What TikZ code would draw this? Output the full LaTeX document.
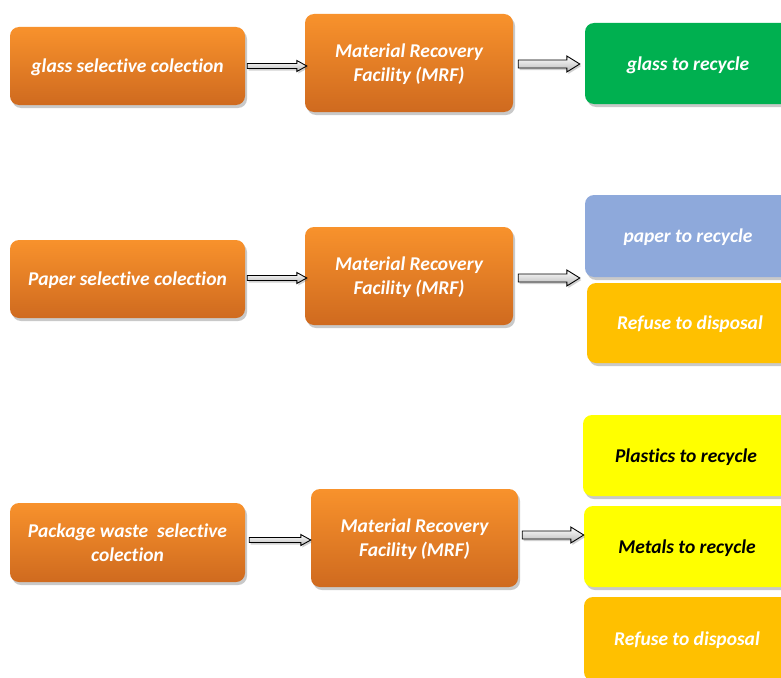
\documentclass[tikz,border=0pt]{standalone}
\usepackage{fontspec}
\setmainfont[Ligatures={NoCommon}]{Carlito}
\usetikzlibrary{shadows,calc}
\definecolor{orangetop}{HTML}{F8922C}
\definecolor{orangebot}{HTML}{CF6A1F}
\definecolor{recgreen}{HTML}{00B050}
\definecolor{recblue}{HTML}{8EA9DB}
\definecolor{refgold}{HTML}{FFC000}
\definecolor{recyellow}{HTML}{FFFF00}
% block arrow from the start point to the target point:
% #1 half shaft width, #2 half head width, #3 head length
\newcommand\blockarrowpath[3]{%
  let \p1=(\tikztostart), \p2=(\tikztotarget) in
  (\x1,{\y1+#1}) -- ({\x2-#3},{\y1+#1}) -- ({\x2-#3},{\y1+#2}) -- (\x2,\y1)
  -- ({\x2-#3},{\y1-#2}) -- ({\x2-#3},{\y1-#1}) -- (\x1,{\y1-#1}) -- cycle}
\tikzset{
  card/.style={rounded corners=9pt, align=center, inner sep=0pt, text depth=0pt,
    font=\fontsize{19.5}{24}\selectfont\bfseries\itshape,
    drop shadow={shadow xshift=2pt, shadow yshift=-3pt, opacity=0.35, fill=black!60}},
  orangebox/.style={card, text=white, top color=orangetop, bottom color=orangebot},
  srcbox/.style={orangebox, minimum width=235pt, minimum height=78pt},
  mrfbox/.style={orangebox, minimum width=208pt, minimum height=98pt},
  outbox/.style={card, minimum width=206pt, minimum height=81pt},
  arrowlook/.style={draw=black, line width=0.9pt, line join=miter,
    top color=white, bottom color=black!28,
    drop shadow={shadow xshift=1.5pt, shadow yshift=-2pt, opacity=0.3, fill=black!60}},
  flow/.style={arrowlook, to path={\blockarrowpath{2.5pt}{5.5pt}{10pt}}},
  flowwide/.style={arrowlook, to path={\blockarrowpath{4pt}{8pt}{13pt}}},
}
\begin{document}
\begin{tikzpicture}[x=1pt,y=-1pt]
\useasboundingbox (0,0) rectangle (781,677);
\clip (0,0) rectangle (781,677);
\fill[white] (0,0) rectangle (781,677);

% glass stream
\node[srcbox] (g1) at (127.5,66) {glass selective colection};
\node[mrfbox] (m1) at (409,63) {Material Recovery\\Facility (MRF)};
\node[outbox, fill=recgreen, text=white] (o1) at (688,63.5) {glass to recycle};

% paper stream
\node[srcbox] (g2) at (127.5,279) {Paper selective colection};
\node[mrfbox] (m2) at (409,276) {Material Recovery\\Facility (MRF)};
\node[outbox, fill=recblue, text=white, minimum height=82pt] (p2) at (688,236) {paper to recycle};
\node[outbox, fill=refgold, text=white, minimum height=80pt] (r2) at (690,323) {Refuse to disposal};

% package waste stream
\node[srcbox, minimum height=79pt] (g3) at (127.5,542.5) {Package waste \ selective\\colection};
\node[mrfbox, minimum width=207pt] (m3) at (414.5,538) {Material Recovery\\Facility (MRF)};
\node[outbox, fill=recyellow, text=black] (pl) at (686,455.5) {Plastics to recycle};
\node[outbox, fill=recyellow, text=black] (me) at (687,546.5) {Metals to recycle};
\node[outbox, fill=refgold, text=white, minimum height=84pt] (rf) at (687,639) {Refuse to disposal};

% connectors, all horizontal
\path[flow] ([xshift=2pt]g1.east) to ([xshift=2pt]g1.east -| m1.west);
\path[flowwide] ([xshift=5pt,yshift=-1pt]m1.east) to ([xshift=-5pt,yshift=-1pt]m1.east -| o1.west);
\path[flow] ([xshift=2pt,yshift=1pt]g2.east) to ([xshift=2pt,yshift=1pt]g2.east -| m2.west);
\path[flowwide] ([xshift=5pt,yshift=-2pt]m2.east) to ([xshift=-5pt,yshift=-2pt]m2.east -| p2.west);
\path[flow] ([xshift=4pt,yshift=2.5pt]g3.east) to ([yshift=2.5pt]g3.east -| m3.west);
\path[flowwide] ([xshift=4pt,yshift=3pt]m3.east) to ([yshift=3pt]m3.east -| me.west);
\end{tikzpicture}
\end{document}
